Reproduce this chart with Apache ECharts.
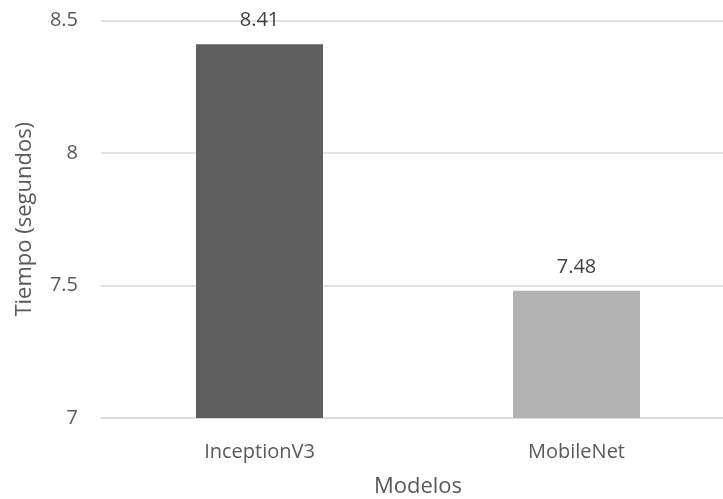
<!DOCTYPE html>
<html>
<head>
<meta charset="utf-8">
<script src="https://cdn.jsdelivr.net/npm/echarts@6/dist/echarts.min.js"></script>
<style>
  html, body { margin: 0; padding: 0; background: #fff; }
  #chart { width: 723px; height: 499px; }
</style>
</head>
<body>
<div id="chart"></div>
<script>
// Inference time per model
const modelos = ['InceptionV3', 'MobileNet'];
const tiempos = [8.41, 7.48];
const colores = ['#5f5f5f', '#b2b2b2'];

const fuente = '"Open Sans", "Liberation Sans", sans-serif';
const chart = echarts.init(document.getElementById('chart'), null, { renderer: 'canvas' });

chart.setOption({
  animation: false,
  // plot area runs slightly past the right edge of the canvas
  grid: {
    left: 101, width: 634, top: 20.5, height: 397.5,
    containLabel: false, outerBoundsMode: 'none'
  },
  xAxis: {
    type: 'category',
    data: modelos,
    name: 'Modelos',
    nameLocation: 'middle',
    nameGap: 58,
    nameTextStyle: { color: '#595959', fontSize: 22, fontFamily: fuente },
    axisLine: { show: true, lineStyle: { color: '#d9d9d9', width: 1.5 } },
    axisTick: { show: false },
    axisLabel: { color: '#595959', fontSize: 20, fontFamily: fuente, margin: 24 }
  },
  yAxis: {
    type: 'value',
    min: 7,
    max: 8.5,
    interval: 0.5,
    name: 'Tiempo (segundos)',
    nameLocation: 'middle',
    nameGap: 65,
    nameTextStyle: { color: '#595959', fontSize: 22, fontFamily: fuente },
    axisLine: { show: false },
    axisTick: { show: false },
    splitLine: { lineStyle: { color: '#d9d9d9', width: 1.5 } },
    axisLabel: { color: '#595959', fontSize: 20, fontFamily: fuente, margin: 23 }
  },
  series: [{
    type: 'bar',
    data: tiempos.map((v, i) => ({ value: v, itemStyle: { color: colores[i] } })),
    barWidth: 127,
    label: {
      show: true,
      position: 'top',
      distance: 14,
      color: '#404040',
      fontSize: 20,
      fontFamily: fuente,
      formatter: p => p.value.toFixed(2)
    }
  }]
});
</script>
</body>
</html>
